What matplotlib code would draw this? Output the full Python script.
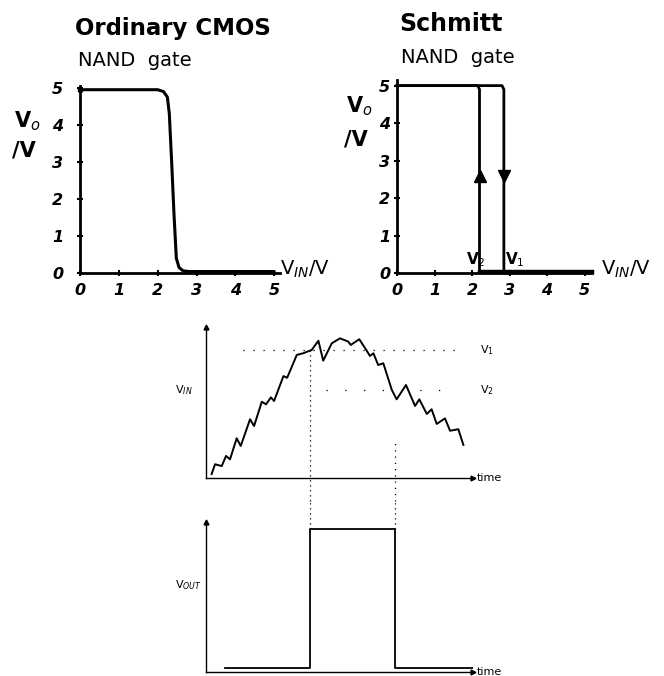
import matplotlib
matplotlib.use("Agg")
import matplotlib.pyplot as plt
import numpy as np

# --- data ---
# ordinary CMOS NAND transfer curve (V_in, V_out)
cmos_vin = [0.0, 2.0, 2.15, 2.25, 2.3, 2.36, 2.42, 2.48, 2.55, 2.65, 2.8, 5.0]
cmos_vout = [4.95, 4.95, 4.9, 4.75, 4.3, 3.0, 1.6, 0.4, 0.15, 0.06, 0.04, 0.04]
ticks_top = [0, 1, 2, 3, 4, 5]

# Schmitt NAND thresholds
V1 = 2.85
V2 = 2.2

# noisy input signal (time, V_in) on arbitrary 0..10 scales
t_in = [0.21, 0.34, 0.59, 0.75, 0.90, 1.15, 1.30, 1.65, 1.80, 2.09, 2.25, 2.43,
        2.55, 2.90, 3.04, 3.40, 3.64, 3.96, 4.21, 4.39, 4.71, 5.02, 5.33, 5.42,
        5.74, 6.02, 6.14, 6.27, 6.45, 6.64, 6.96, 7.14, 7.49, 7.83, 7.99, 8.27,
        8.45, 8.64, 8.95, 9.14, 9.45, 9.64]
v_in = [0.26, 0.91, 0.79, 1.46, 1.24, 2.63, 2.12, 3.89, 3.44, 5.05, 4.88, 5.34,
        5.10, 6.75, 6.64, 8.15, 8.26, 8.48, 9.09, 7.77, 8.92, 9.25, 9.03, 8.81,
        9.19, 8.43, 8.08, 8.26, 7.48, 7.60, 5.83, 5.21, 6.16, 4.77, 5.21, 4.24,
        4.55, 3.58, 3.95, 3.13, 3.23, 2.19]
thr_hi = 8.48     # V1 level on the input plot
thr_lo = 5.83     # V2 level on the input plot
t_up = 3.9        # input crosses V1
t_down = 7.08     # input falls below V2
out_lo = 0.27
out_hi = 9.53
out_start = 0.71

W, H = 664, 676
fig = plt.figure(figsize=(W / 100, H / 100), dpi=100)
fig.patch.set_facecolor("white")


def px_axes(left, top, right, bottom):
    return fig.add_axes([left / W, 1 - bottom / H, (right - left) / W, (bottom - top) / H])


def hand_axes(ax, xmax, ymax, ypad):
    for s in ["top", "right"]:
        ax.spines[s].set_visible(False)
    for s in ["left", "bottom"]:
        ax.spines[s].set_linewidth(2.0)
    ax.set_xlim(0, xmax)
    ax.set_ylim(0, ymax)
    ax.set_xticks(ticks_top)
    ax.set_yticks(ticks_top)
    lab = dict(fontsize=11.5, fontweight="bold", fontstyle="italic")
    ax.set_xticklabels([str(t) for t in ticks_top], **lab)
    ax.set_yticklabels([str(t) for t in ticks_top], **lab)
    ax.tick_params(axis="both", direction="inout", length=4, width=1.5)
    ax.tick_params(axis="x", pad=5)
    ax.tick_params(axis="y", pad=ypad)
    ax.patch.set_alpha(0)


# ---------------- ordinary CMOS ----------------
ax1 = px_axes(80, 86, 280, 273)
hand_axes(ax1, 5.15, 5.05, 10)
ax1.plot(cmos_vin, cmos_vout, color="black", lw=2.2, solid_capstyle="round", clip_on=False)
ax1.plot([0], [4.95], "o", color="black", ms=3, clip_on=False)
ax1.text(-0.12, 6.6, "Ordinary CMOS", fontsize=16.5, fontweight="bold", ha="left", va="center")
ax1.text(-0.05, 5.75, "NAND  gate", fontsize=14, ha="left", va="center")
ax1.text(-1.7, 4.1, "V$_o$", fontsize=15, fontweight="bold", ha="left", va="center")
ax1.text(-1.75, 3.3, "/V", fontsize=15, fontweight="bold", ha="left", va="center")
ax1.text(5.15, 0.1, "V$_{IN}$/V", fontsize=14, ha="left", va="center")

# ---------------- Schmitt ----------------
ax2 = px_axes(397, 80, 592, 273)
hand_axes(ax2, 5.2, 5.15, 3)
ax2.plot([0, V1 - 0.05, V1, V1, 5.2], [5.0, 5.0, 4.9, 0.04, 0.04],
         color="black", lw=2.0, clip_on=False)
ax2.plot([5.2, V2, V2, V2 - 0.05, 0], [0.04, 0.04, 4.9, 5.0, 5.0],
         color="black", lw=2.0, clip_on=False)
ax2.plot([V2, 5.2], [0.02, 0.02], color="black", lw=3.2, clip_on=False)
ax2.plot([V2], [2.6], marker="^", color="black", ms=9)
ax2.plot([V1], [2.6], marker="v", color="black", ms=9)
ax2.text(V2 - 0.1, 0.35, "V$_2$", fontsize=11, fontweight="bold", ha="center", va="center")
ax2.text(V1 + 0.3, 0.35, "V$_1$", fontsize=11, fontweight="bold", ha="center", va="center")
ax2.text(0.05, 6.65, "Schmitt", fontsize=17, fontweight="bold", ha="left", va="center")
ax2.text(0.1, 5.75, "NAND  gate", fontsize=14, ha="left", va="center")
ax2.text(-1.35, 4.45, "V$_o$", fontsize=15, fontweight="bold", ha="left", va="center")
ax2.text(-1.4, 3.55, "/V", fontsize=15, fontweight="bold", ha="left", va="center")
ax2.text(5.45, 0.1, "V$_{IN}$/V", fontsize=14, ha="left", va="center")


def thin_axes(ax):
    for s in ["top", "right"]:
        ax.spines[s].set_visible(False)
    for s in ["left", "bottom"]:
        ax.spines[s].set_linewidth(1.0)
    ax.set_xticks([])
    ax.set_yticks([])
    ax.set_xlim(0, 10)
    ax.set_ylim(0, 10)
    ax.plot([0], [10], marker="^", color="black", ms=3.5, clip_on=False)
    ax.plot([10], [0], marker=">", color="black", ms=3.5, clip_on=False)
    ax.text(10.15, 0, "time", fontsize=8, ha="left", va="center")
    ax.patch.set_alpha(0)


# ---------------- V_IN vs time ----------------
ax3 = px_axes(206, 327, 473, 478)
thin_axes(ax3)
ax3.plot(t_in, v_in, color="black", lw=1.4)
ax3.hlines(thr_hi, 1.4, 9.4, colors="black", linestyles=(0, (1, 7)), lw=0.9)
ax3.hlines(thr_lo, 4.5, 9.4, colors="black", linestyles=(0, (1, 14)), lw=0.9)
ax3.vlines(t_up, -1.5, thr_hi, colors="black", linestyles=(0, (1, 3)), lw=0.9, clip_on=False)
ax3.vlines(t_down, -1.5, 2.5, colors="black", linestyles=(0, (1, 4)), lw=0.9, clip_on=False)
ax3.text(-0.85, 5.8, "V$_{IN}$", fontsize=8, ha="center", va="center")
ax3.text(10.25, thr_hi, "V$_1$", fontsize=8, ha="left", va="center")
ax3.text(10.25, thr_lo, "V$_2$", fontsize=8, ha="left", va="center")

# ---------------- V_OUT vs time ----------------
ax4 = px_axes(206, 522, 473, 672)
thin_axes(ax4)
ax4.plot([out_start, t_up, t_up, t_down, t_down, 10],
         [out_lo, out_lo, out_hi, out_hi, out_lo, out_lo], color="black", lw=1.3)
ax4.vlines([t_up, t_down], out_hi, 11.5, colors="black", linestyles=(0, (1, 3)),
           lw=0.9, clip_on=False)
ax4.text(-0.65, 5.8, "V$_{OUT}$", fontsize=8, ha="center", va="center")

fig.savefig("out.png", dpi=100, facecolor="white")
